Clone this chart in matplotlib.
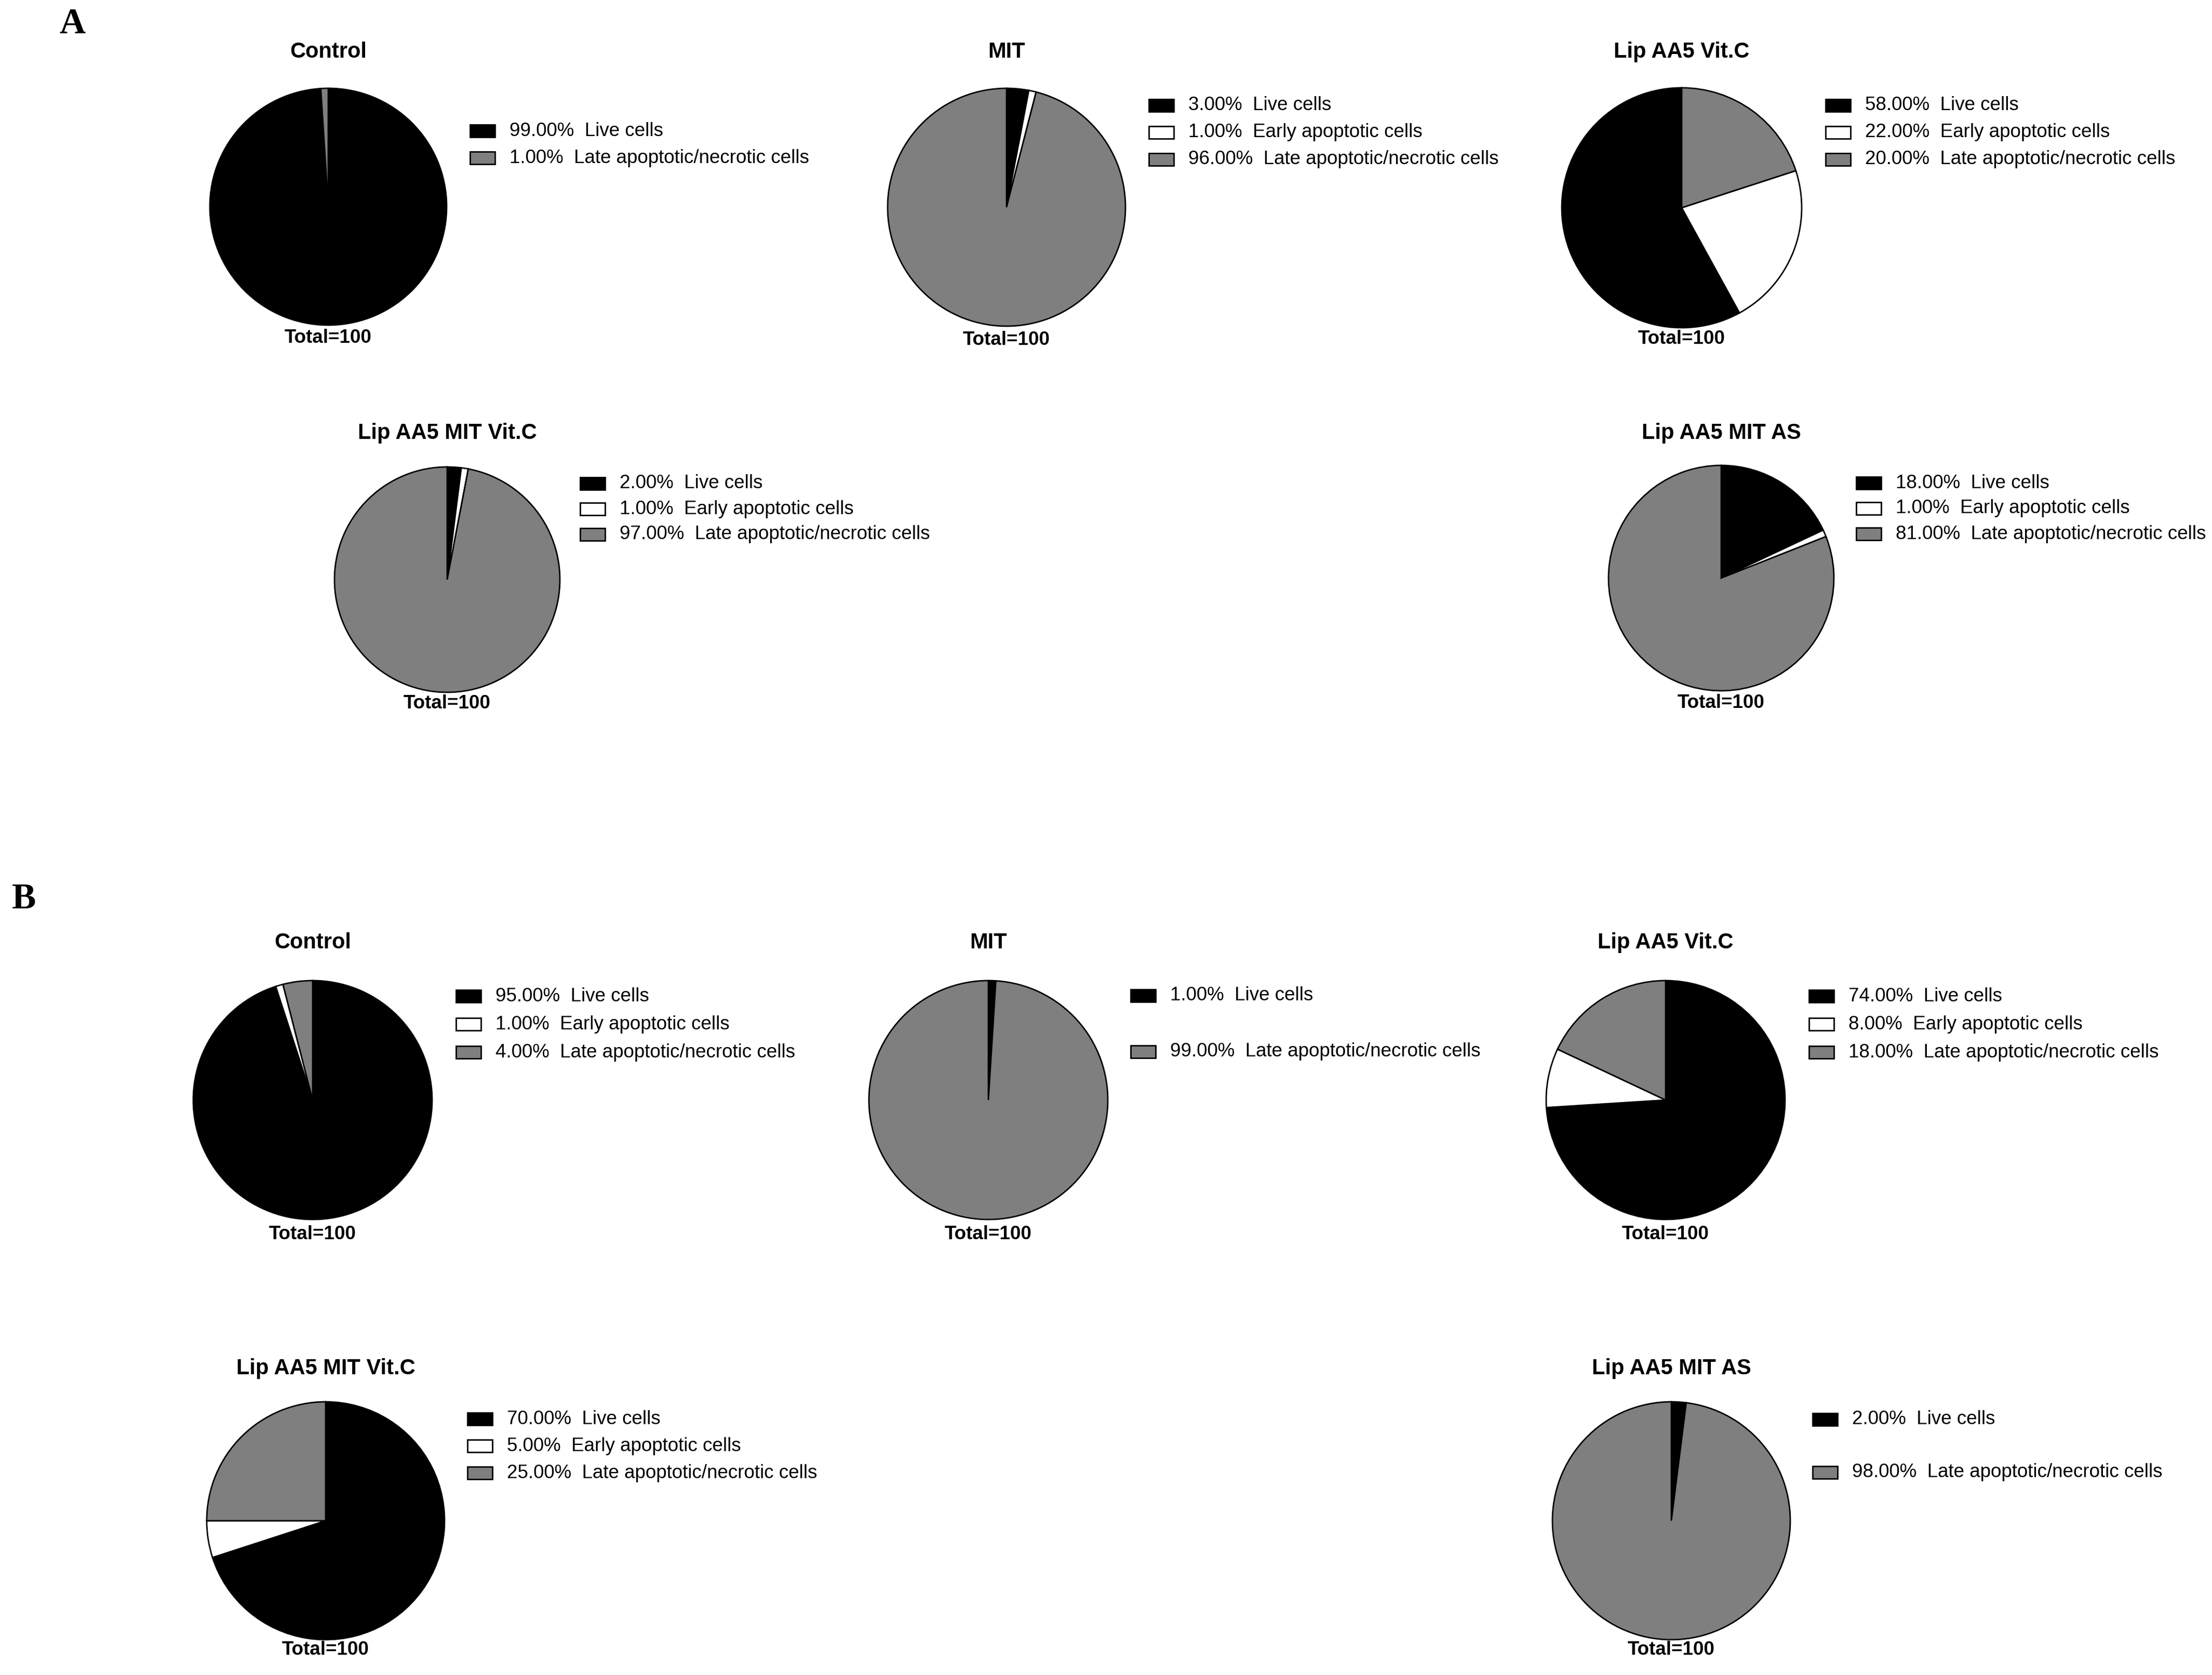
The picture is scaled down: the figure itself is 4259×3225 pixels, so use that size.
"""
Pie charts of cell populations (live / early apoptotic / late apoptotic-necrotic)
for five treatment groups, two panels (A and B).
"""

import matplotlib
matplotlib.use("Agg")
import matplotlib.pyplot as plt
from matplotlib.patches import Rectangle

plt.rcParams['font.family'] = ['Liberation Sans', 'DejaVu Sans']

# ---- data -------------------------------------------------------------
groups = ["Control", "MIT", "Lip AA5 Vit.C", "Lip AA5 MIT Vit.C", "Lip AA5 MIT AS"]
categories = ["Live cells", "Early apoptotic cells", "Late apoptotic/necrotic cells"]
colors = ["black", "white", "#7f7f7f"]

live_a = [99, 3, 58, 2, 18]
early_a = [0, 1, 22, 1, 1]
late_a = [1, 96, 20, 97, 81]

live_b = [95, 1, 74, 70, 2]
early_b = [1, 0, 8, 5, 0]
late_b = [4, 99, 18, 25, 98]

# ---- layout (pixels of the 4259x3225 canvas) ---------------------------
W, H = 4259, 3225

# centre x, centre y, radius, title y, total y, legend x, legend first row y, row step
layout_a = [
    (632, 398, 228, 100, 651, 905, 252, 52),
    (1938, 399, 229, 100, 654, 2212, 203, 52),
    (3238, 400, 231, 100, 653, 3515, 203, 52),
    (861, 1116, 217, 834, 1354, 1117, 931, 49),
    (3314, 1113, 217, 834, 1353, 3574, 930, 49),
]
layout_b = [
    (602, 2118, 230, 1815, 2377, 878, 1918, 54),
    (1903, 2118, 230, 1815, 2377, 2177, 1917, 54),
    (3207, 2118, 230, 1815, 2377, 3483, 1918, 54),
    (627, 2928, 229, 2635, 3176, 900, 2732, 52),
    (3218, 2928, 229, 2635, 3176, 3490, 2733, 51),
]
# keep an empty legend row where a category is absent
blank_row_a = [False, False, False, False, False]
blank_row_b = [False, True, False, False, True]
# one chart in panel A is drawn counter-clockwise
ccw_a = [False, False, True, False, False]
ccw_b = [False, False, False, False, False]

fig = plt.figure(figsize=(W / 100, H / 100), dpi=100)
fig.patch.set_facecolor("white")


def fx(x):
    return x / W


def fy(y):
    return 1 - y / H


def draw_pie(title, values, lay, keep_blank, ccw):
    cx, cy, r, ty, toty, lx, ly, dy = lay
    pad = 1.05
    ax = fig.add_axes([fx(cx - r * pad), fy(cy + r * pad), 2 * r * pad / W, 2 * r * pad / H])
    vals = [v for v in values if v > 0]
    cols = [c for v, c in zip(values, colors) if v > 0]
    ax.pie(vals, colors=cols, startangle=90, counterclock=ccw, radius=1,
           wedgeprops=dict(edgecolor="black", linewidth=2.0))
    ax.set_xlim(-pad, pad)
    ax.set_ylim(-pad, pad)
    ax.set_aspect("equal")
    ax.axis("off")

    fig.text(fx(cx), fy(ty), title, ha="center", va="center",
             fontsize=30, fontweight="bold")
    fig.text(fx(cx), fy(toty), f"Total={sum(values)}", ha="center", va="center",
             fontsize=26.5, fontweight="bold")

    # legend
    row = 0
    for v, cat, col in zip(values, categories, colors):
        if v == 0:
            if keep_blank:
                row += 1
            continue
        y = ly + row * dy
        fig.add_artist(Rectangle((fx(lx), fy(y + 12)), 48 / W, 24 / H,
                                 transform=fig.transFigure, facecolor=col,
                                 edgecolor="black", linewidth=2))
        fig.text(fx(lx + 76), fy(y), f"{v:.2f}%  {cat}", ha="left", va="center",
                 fontsize=26.5)
        row += 1


for i, g in enumerate(groups):
    draw_pie(g, [live_a[i], early_a[i], late_a[i]], layout_a[i], blank_row_a[i], ccw_a[i])
    draw_pie(g, [live_b[i], early_b[i], late_b[i]], layout_b[i], blank_row_b[i], ccw_b[i])

# panel letters
fig.text(fx(139), fy(47), "A", ha="center", va="center", fontsize=50,
         fontweight="bold", family=["Liberation Serif", "DejaVu Serif"])
fig.text(fx(46), fy(1732), "B", ha="center", va="center", fontsize=50,
         fontweight="bold", family=["Liberation Serif", "DejaVu Serif"])

fig.savefig("out.png", dpi=100, facecolor="white")
